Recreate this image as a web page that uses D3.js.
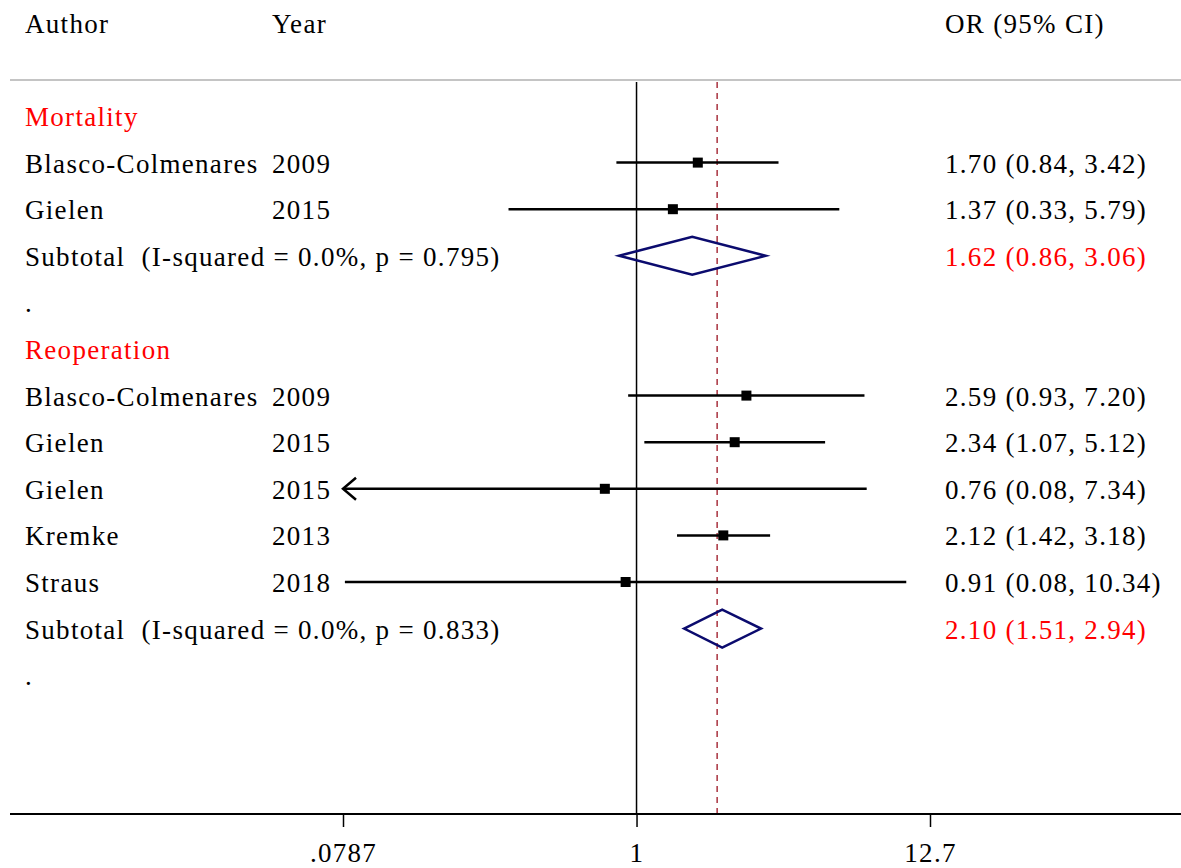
<!DOCTYPE html>
<html>
<head>
<meta charset="utf-8">
<script src="https://cdn.jsdelivr.net/npm/d3@7"></script>
<style>
    body { margin: 0; background: #fff; }
    text { font-family: "Liberation Serif", "DejaVu Serif", serif; letter-spacing: 1.3px; }
</style>
</head>
<body>
<div id="forest"></div>
<script>

// rows of the table, top to bottom (row index = position)
const labels = [
    'Mortality', 'Blasco-Colmenares', 'Gielen', 'Subtotal  (I-squared = 0.0%, p = 0.795)', '.',
    'Reoperation', 'Blasco-Colmenares', 'Gielen', 'Gielen', 'Kremke', 'Straus',
    'Subtotal  (I-squared = 0.0%, p = 0.833)', '.'
];
const years = ['', '2009', '2015', '', '', '', '2009', '2015', '2015', '2013', '2018', '', ''];
const rowType = ['group', 'study', 'study', 'sub', 'blank', 'group', 'study', 'study', 'study', 'study', 'study', 'sub', 'blank'];

// estimates (null where the row has no mark)
const orValues = [null, 1.70, 1.37, 1.62, null, null, 2.59, 2.34, 0.76, 2.12, 0.91, 2.10, null];
const lowerCI  = [null, 0.84, 0.33, 0.86, null, null, 0.93, 1.07, 0.078, 1.42, 0.08, 1.51, null];
const upperCI  = [null, 3.42, 5.79, 3.06, null, null, 7.20, 5.12, 7.34, 3.18, 10.34, 2.94, null];
const ciText = ['', '1.70 (0.84, 3.42)', '1.37 (0.33, 5.79)', '1.62 (0.86, 3.06)', '', '',
    '2.59 (0.93, 7.20)', '2.34 (1.07, 5.12)', '0.76 (0.08, 7.34)', '2.12 (1.42, 3.18)',
    '0.91 (0.08, 10.34)', '2.10 (1.51, 2.94)', ''];

const overallOR = 2.01;
const tickValues = [0.0787, 1, 12.7];
const tickLabels = ['.0787', '1', '12.7'];

function buildForest() {
    const W = 1181, H = 868;
    const svg = d3.select('#forest').append('svg')
        .attr('width', W)
        .attr('height', H);

    // SCALES
    const x = d3.scaleLog().domain([0.0787, 12.7]).range([343, 930]);
    const y = d3.scaleLinear().domain([0, 11]).range([116, 628.6]);
    const plotTop = 82, axisY = 814;
    const xMin = x.domain()[0], xMax = x.domain()[1];

    // header
    const header = svg.append('g').attr('font-size', 27).attr('fill', '#000');
    header.append('text').attr('x', 25).attr('y', 33).text('Author');
    header.append('text').attr('x', 272).attr('y', 33).text('Year');
    header.append('text').attr('x', 945).attr('y', 33).text('OR (95% CI)');

    svg.append('line')
        .attr('x1', 10).attr('x2', W)
        .attr('y1', 80).attr('y2', 80)
        .attr('stroke', '#c4c4c4')
        .attr('stroke-width', 2);

    // null line and overall line
    svg.append('line')
        .attr('x1', x(1)).attr('x2', x(1))
        .attr('y1', plotTop).attr('y2', axisY)
        .attr('stroke', '#000').attr('stroke-width', 1.5);

    svg.append('line')
        .attr('x1', x(overallOR)).attr('x2', x(overallOR))
        .attr('y1', plotTop).attr('y2', axisY)
        .attr('stroke', '#a8323e').attr('stroke-width', 1.5)
        .attr('stroke-dasharray', '6,5');

    // AXIS
    const axis = svg.append('g')
        .attr('transform', `translate(0,${axisY})`)
        .call(d3.axisBottom(x)
            .tickValues(tickValues)
            .tickFormat((d, i) => tickLabels[i])
            .tickSize(13)
            .tickPadding(16));
    axis.select('.domain').remove();
    axis.append('line')
        .attr('x1', 10).attr('x2', W)
        .attr('stroke', '#000').attr('stroke-width', 2);
    axis.selectAll('.tick line').attr('stroke', '#000').attr('stroke-width', 1.5);
    axis.selectAll('.tick text')
        .attr('fill', '#000')
        .attr('font-size', 27)
        .attr('font-family', '"Liberation Serif", serif');

    // TABLE TEXT
    const rows = d3.range(labels.length);
    const textG = svg.append('g').attr('font-size', 27);

    textG.selectAll('.lab').data(rows).enter()
        .append('text')
        .attr('class', 'lab')
        .attr('x', 25)
        .attr('y', i => y(i) + 10)
        .attr('fill', i => rowType[i] === 'group' ? '#ff0000' : '#000')
        .style('white-space', 'pre')
        .text(i => labels[i]);

    textG.selectAll('.yr').data(rows.filter(i => years[i])).enter()
        .append('text')
        .attr('class', 'yr')
        .attr('x', 272)
        .attr('y', i => y(i) + 10)
        .text(i => years[i]);

    textG.selectAll('.ci').data(rows.filter(i => ciText[i])).enter()
        .append('text')
        .attr('class', 'ci')
        .attr('x', 945)
        .attr('y', i => y(i) + 10)
        .attr('fill', i => rowType[i] === 'sub' ? '#ff0000' : '#000')
        .text(i => ciText[i]);

    // STUDY MARKS
    const studies = rows.filter(i => rowType[i] === 'study');
    const clip = v => Math.max(xMin, Math.min(xMax, v));

    svg.selectAll('.ci-line').data(studies).enter()
        .append('line')
        .attr('class', 'ci-line')
        .attr('x1', i => x(clip(lowerCI[i])))
        .attr('x2', i => x(clip(upperCI[i])))
        .attr('y1', i => y(i)).attr('y2', i => y(i))
        .attr('stroke', '#000').attr('stroke-width', 2.5);

    // arrows where the interval runs off the scale
    svg.selectAll('.arrow').data(studies.filter(i => lowerCI[i] < xMin)).enter()
        .append('path')
        .attr('class', 'arrow')
        .attr('d', i => {
            const ax = x(xMin), ay = y(i);
            return `M${ax + 13},${ay - 11}L${ax},${ay}L${ax + 13},${ay + 11}`;
        })
        .attr('fill', 'none')
        .attr('stroke', '#000').attr('stroke-width', 2.5);

    const sq = 10;
    svg.selectAll('.box').data(studies).enter()
        .append('rect')
        .attr('class', 'box')
        .attr('x', i => x(orValues[i]) - sq / 2)
        .attr('y', i => y(i) - sq / 2)
        .attr('width', sq).attr('height', sq)
        .attr('fill', '#000');

    // SUBTOTAL DIAMONDS
    const subs = rows.filter(i => rowType[i] === 'sub');
    const dh = 19;
    svg.selectAll('.diamond').data(subs).enter()
        .append('path')
        .attr('class', 'diamond')
        .attr('d', i => {
            const cy = y(i);
            return `M${x(lowerCI[i])},${cy}L${x(orValues[i])},${cy - dh}L${x(upperCI[i])},${cy}L${x(orValues[i])},${cy + dh}Z`;
        })
        .attr('fill', 'none')
        .attr('stroke', '#0b0b6e')
        .attr('stroke-width', 2.5);
}

buildForest();
</script>
</body>
</html>
